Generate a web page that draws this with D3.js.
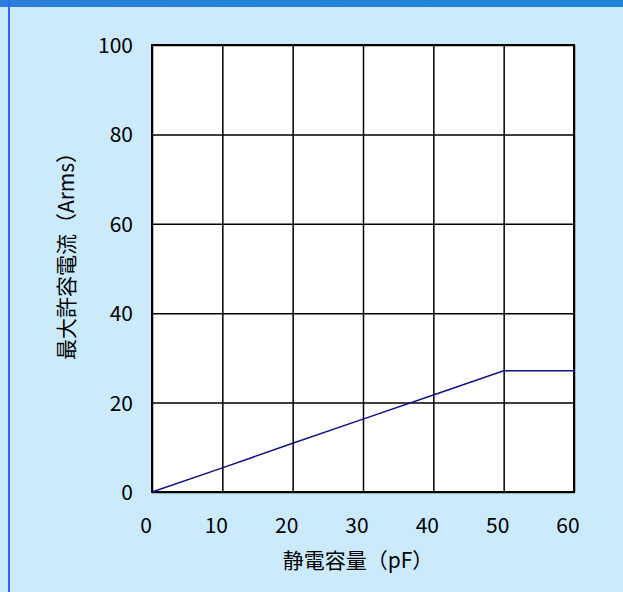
<!DOCTYPE html>
<html>
<head>
<meta charset="utf-8">
<script src="https://d3js.org/d3.v7.min.js"></script>
<style>
  body { margin: 0; background: #cbebfd; }
  svg { display: block; }
</style>
</head>
<body>
<div id="chart"></div>
<script>
// capacitance (pF) vs max allowable current (Arms)
var capacitance = [0, 10, 20, 30, 40, 50, 60];
var current = [0, 5.4, 10.9, 16.3, 21.7, 27.1, 27.1];
var xTicks = [0, 10, 20, 30, 40, 50, 60];
var yTicks = [0, 20, 40, 60, 80, 100];

var W = 623, H = 592;
var margin = {top: 45, right: 49, bottom: 100, left: 152};
var width = W - margin.left - margin.right,
    height = 492 - margin.top;

var svg = d3.select("#chart").append("svg")
    .attr("width", W).attr("height", H);

// background + banner + left border
svg.append("rect").attr("width", W).attr("height", H).attr("fill", "#cbebfd");
var grad = svg.append("defs").append("linearGradient").attr("id", "band");
grad.append("stop").attr("offset", "0%").attr("stop-color", "#2a7fd8");
grad.append("stop").attr("offset", "100%").attr("stop-color", "#1e86d9");
svg.append("rect").attr("width", W).attr("height", 7).attr("fill", "url(#band)");
svg.append("rect").attr("x", 8).attr("y", 0).attr("width", 2).attr("height", H)
    .attr("fill", "#3366ff");

var g = svg.append("g")
    .attr("transform", "translate(" + margin.left + "," + margin.top + ")");

var x = d3.scaleLinear().domain([0, 60]).range([0, width]);
var y = d3.scaleLinear().domain([0, 100]).range([height, 0]);

g.append("rect").attr("width", width).attr("height", height).attr("fill", "#fff");

// grid
g.append("g")
    .call(d3.axisBottom(x).tickValues(xTicks).tickSize(-height).tickFormat(""))
    .attr("transform", "translate(0," + height + ")")
    .call(function(s) { s.select(".domain").remove(); })
    .selectAll("line").attr("stroke", "#000").attr("stroke-width", 1.5);
g.append("g")
    .call(d3.axisLeft(y).tickValues(yTicks).tickSize(-width).tickFormat(""))
    .call(function(s) { s.select(".domain").remove(); })
    .selectAll("line").attr("stroke", "#000").attr("stroke-width", 1.5);

// frame
g.append("rect").attr("width", width).attr("height", height)
    .attr("fill", "none").attr("stroke", "#000").attr("stroke-width", 2);

var font = "'Noto Sans CJK JP', sans-serif";

// tick labels
g.selectAll(".xl").data(xTicks).enter().append("text")
    .attr("x", function(d) { return x(d) - 6; })
    .attr("y", height + 41)
    .attr("text-anchor", "middle")
    .style("font-family", font).style("font-size", "21px")
    .text(function(d) { return d; });
g.selectAll(".yl").data(yTicks).enter().append("text")
    .attr("x", -19)
    .attr("y", function(d) { return y(d) + 8; })
    .attr("text-anchor", "end")
    .style("font-family", font).style("font-size", "21px")
    .text(function(d) { return d; });

// axis titles
svg.append("text")
    .attr("x", 358).attr("y", 568)
    .attr("text-anchor", "middle")
    .style("font-family", font).style("font-size", "21px")
    .text("静電容量（pF）");
svg.append("text")
    .attr("transform", "translate(74,251) rotate(-90)")
    .attr("text-anchor", "middle")
    .style("font-family", font).style("font-size", "21px")
    .text("最大許容電流（Arms）");

// the line
var pts = capacitance.map(function(c, i) { return [c, current[i]]; });
g.append("path")
    .datum(pts)
    .attr("fill", "none")
    .attr("stroke", "#10108a")
    .attr("stroke-width", 1.5)
    .attr("d", d3.line()
        .x(function(d) { return x(d[0]); })
        .y(function(d) { return y(d[1]); }));
</script>
</body>
</html>
